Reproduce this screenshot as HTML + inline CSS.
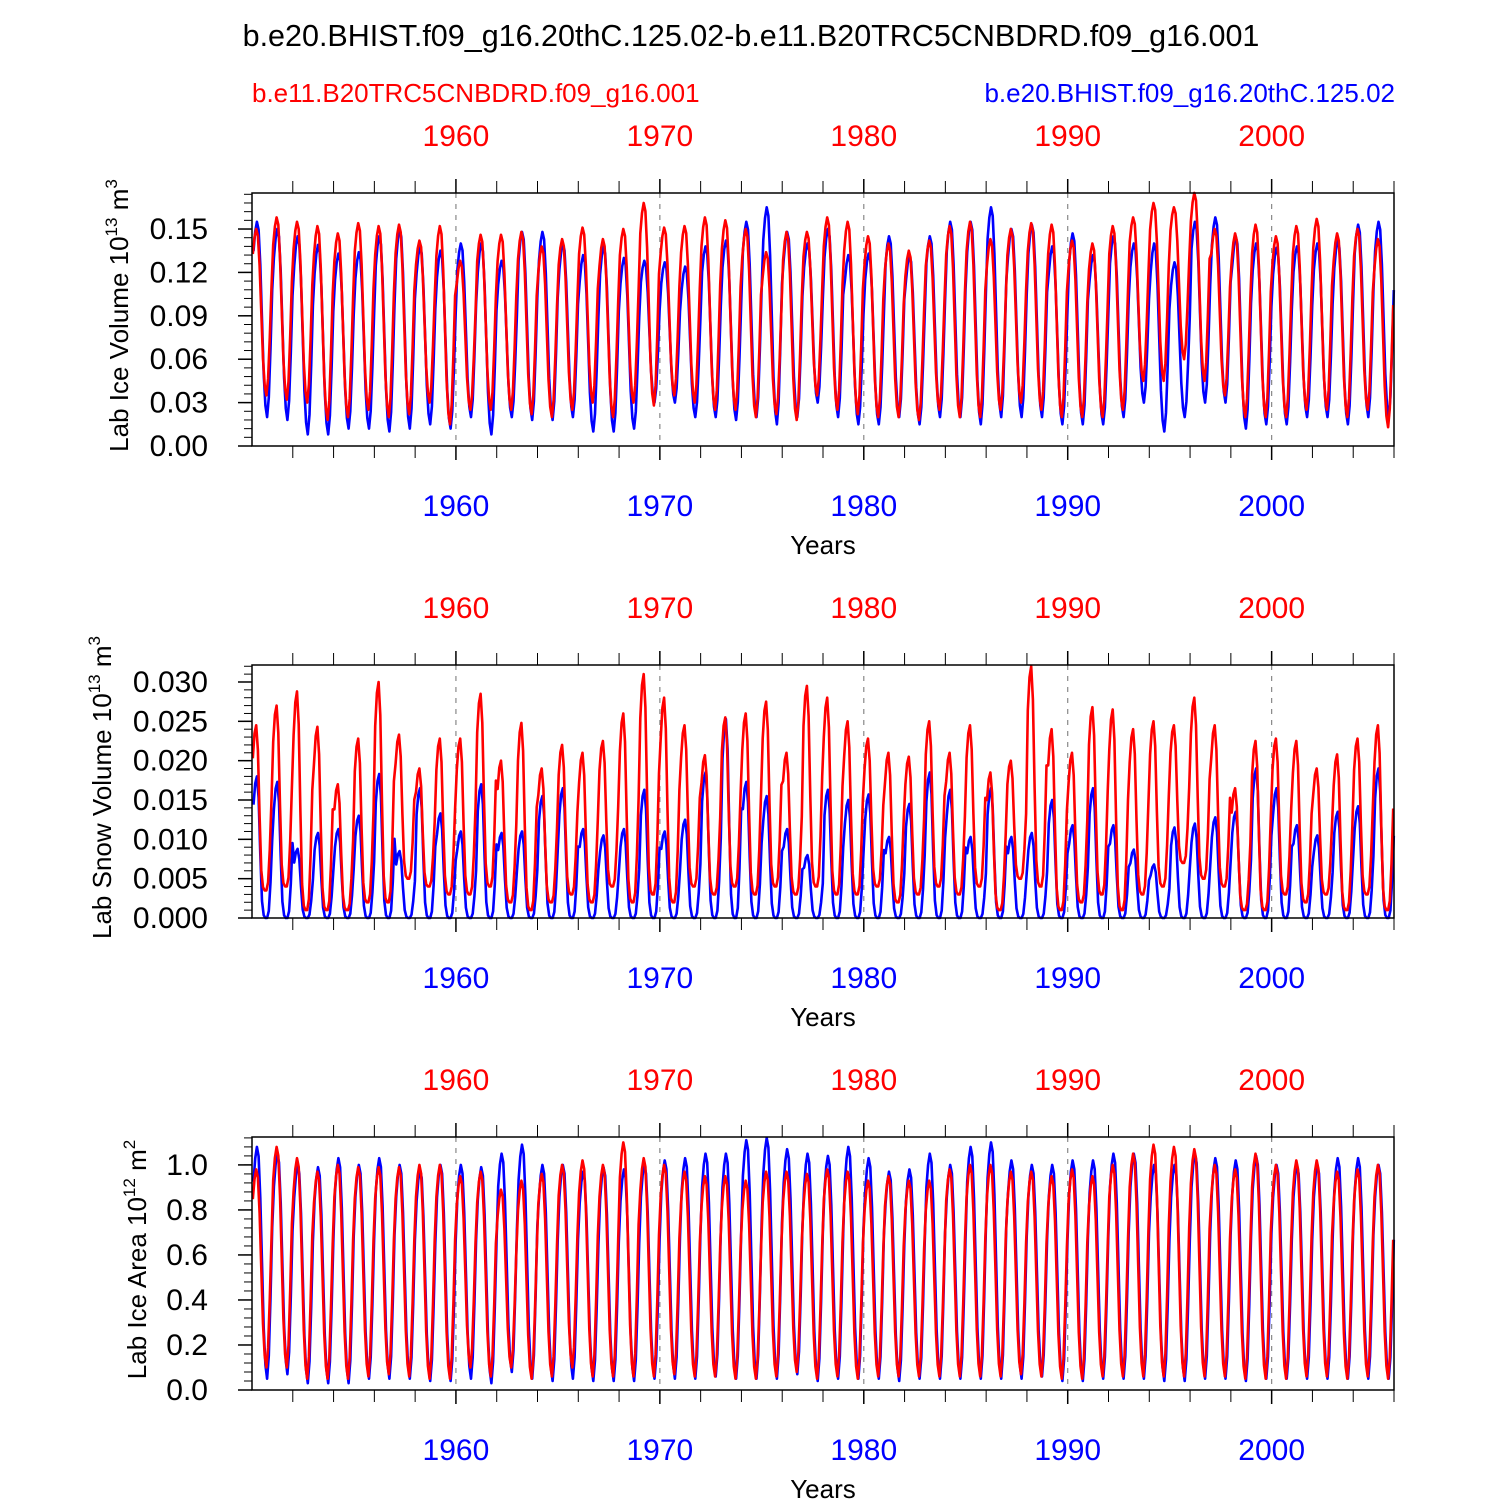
<!DOCTYPE html>
<html><head><meta charset="utf-8">
<style>
html,body{margin:0;padding:0;background:#fff;}
svg text{font-family:"Liberation Sans",sans-serif;}
</style></head>
<body>
<svg id="chart" width="1500" height="1500" viewBox="0 0 1500 1500" xmlns="http://www.w3.org/2000/svg">
<text x="751" y="46" text-anchor="middle" font-size="30.5">b.e20.BHIST.f09_g16.20thC.125.02-b.e11.B20TRC5CNBDRD.f09_g16.001</text>
<text x="252" y="102" font-size="26" fill="#f00">b.e11.B20TRC5CNBDRD.f09_g16.001</text>
<text x="1395" y="102" text-anchor="end" font-size="26" fill="#00f">b.e20.BHIST.f09_g16.20thC.125.02</text>
</svg>
<script>
// ---- data ----
const years = [];
for (let y = 1950; y <= 2005; y++) years.push(y);
const seasonShape = [0.85,0.95,1.0,0.96,0.78,0.5,0.22,0.06,0.0,0.1,0.35,0.65];
const snowShape = [0.8,0.95,1.0,0.85,0.45,0.12,0.02,0.0,0.0,0.05,0.25,0.55];

const volRedPeak = [0.15,0.158,0.155,0.152,0.147,0.154,0.152,0.153,0.142,0.152,0.128,0.146,0.146,0.148,0.138,0.143,0.151,0.143,0.15,0.168,0.151,0.152,0.158,0.156,0.15,0.134,0.148,0.148,0.158,0.155,0.145,0.14,0.135,0.142,0.152,0.155,0.143,0.15,0.154,0.153,0.142,0.14,0.152,0.158,0.168,0.165,0.175,0.15,0.147,0.153,0.145,0.152,0.157,0.147,0.15,0.143];
const volRedMin = [0.035,0.032,0.03,0.018,0.02,0.025,0.02,0.022,0.03,0.015,0.025,0.025,0.025,0.022,0.02,0.025,0.03,0.02,0.03,0.028,0.035,0.03,0.025,0.025,0.02,0.022,0.018,0.035,0.025,0.022,0.02,0.02,0.018,0.025,0.02,0.02,0.025,0.03,0.025,0.02,0.02,0.02,0.025,0.045,0.045,0.06,0.045,0.035,0.02,0.02,0.02,0.025,0.025,0.02,0.025,0.013];
const volBluePeak = [0.155,0.15,0.145,0.139,0.133,0.134,0.145,0.15,0.138,0.135,0.14,0.14,0.128,0.148,0.148,0.14,0.132,0.138,0.13,0.128,0.127,0.124,0.138,0.142,0.155,0.165,0.148,0.14,0.15,0.132,0.133,0.145,0.132,0.145,0.155,0.155,0.165,0.15,0.153,0.138,0.147,0.132,0.145,0.14,0.14,0.127,0.155,0.158,0.145,0.14,0.137,0.138,0.14,0.142,0.153,0.155];
const volBlueMin = [0.02,0.018,0.008,0.008,0.012,0.012,0.01,0.012,0.015,0.012,0.02,0.008,0.02,0.018,0.018,0.02,0.01,0.01,0.012,0.03,0.03,0.02,0.02,0.018,0.02,0.015,0.02,0.03,0.02,0.015,0.015,0.02,0.015,0.02,0.02,0.015,0.02,0.02,0.02,0.015,0.015,0.015,0.02,0.03,0.01,0.02,0.03,0.03,0.012,0.015,0.015,0.02,0.02,0.015,0.02,0.02];

const snowRedPeak = [0.0245,0.027,0.0288,0.0243,0.017,0.0228,0.030,0.0233,0.019,0.0228,0.0228,0.0285,0.020,0.0248,0.019,0.022,0.021,0.0225,0.026,0.031,0.028,0.0245,0.0207,0.0255,0.026,0.0275,0.021,0.0295,0.028,0.025,0.0228,0.021,0.0205,0.025,0.021,0.0245,0.0185,0.020,0.032,0.024,0.021,0.0268,0.0265,0.024,0.025,0.0245,0.028,0.0245,0.0165,0.0225,0.0228,0.0225,0.019,0.0208,0.0228,0.0245];
const snowRedMin = [0.0035,0.004,0.001,0.001,0.001,0.002,0.002,0.005,0.004,0.003,0.003,0.004,0.002,0.001,0.002,0.003,0.002,0.004,0.002,0.003,0.002,0.004,0.003,0.004,0.003,0.004,0.003,0.004,0.003,0.003,0.004,0.002,0.003,0.004,0.003,0.004,0.001,0.005,0.004,0.001,0.002,0.003,0.001,0.003,0.004,0.007,0.005,0.004,0.001,0.001,0.003,0.002,0.003,0.001,0.003,0.001];
const snowBluePeak = [0.018,0.0173,0.0088,0.0108,0.0113,0.013,0.0183,0.0085,0.0165,0.0133,0.011,0.017,0.0108,0.011,0.0155,0.0165,0.0113,0.0105,0.0113,0.0163,0.011,0.0125,0.0185,0.0253,0.0173,0.0155,0.0113,0.008,0.0163,0.015,0.0157,0.0103,0.0145,0.0185,0.0163,0.0103,0.0165,0.0103,0.0108,0.015,0.0118,0.0165,0.0118,0.0087,0.0068,0.0115,0.012,0.0128,0.0135,0.019,0.0165,0.0118,0.0105,0.0135,0.0142,0.019];
const snowBlueMin = years.map(() => 0.0);

const areaRedPeak = [0.98,1.08,1.03,0.97,1.0,0.99,0.99,0.99,1.0,1.0,0.95,0.97,0.89,0.93,0.96,1.0,1.02,1.0,1.1,1.03,1.0,0.97,0.95,0.95,0.93,0.97,0.97,0.96,0.98,0.97,0.93,0.95,0.93,0.93,0.98,1.0,1.0,0.97,0.97,0.95,0.98,0.95,1.0,1.05,1.09,1.08,1.07,1.0,0.98,1.05,1.0,1.02,1.02,0.97,0.98,1.0];
const areaRedMin = [0.1,0.1,0.05,0.05,0.05,0.06,0.07,0.06,0.05,0.05,0.1,0.06,0.1,0.05,0.06,0.1,0.06,0.06,0.06,0.06,0.07,0.06,0.06,0.05,0.05,0.06,0.08,0.05,0.06,0.05,0.06,0.06,0.06,0.06,0.06,0.06,0.06,0.07,0.06,0.05,0.05,0.06,0.06,0.06,0.06,0.06,0.06,0.06,0.05,0.05,0.05,0.06,0.06,0.05,0.06,0.05];
const areaBluePeak = [1.08,1.05,1.0,0.99,1.03,1.0,1.03,1.0,0.98,1.0,1.0,0.99,1.05,1.09,1.0,1.0,0.97,0.99,0.98,1.0,1.02,1.03,1.05,1.05,1.11,1.12,1.07,1.05,1.04,1.08,1.03,0.97,0.98,1.05,1.0,1.08,1.1,1.02,1.0,1.0,1.02,1.02,1.05,1.05,1.0,1.0,1.05,1.03,1.02,1.04,1.0,1.0,1.0,1.03,1.03,1.0];
const areaBlueMin = [0.05,0.07,0.03,0.03,0.03,0.05,0.05,0.05,0.04,0.04,0.05,0.03,0.08,0.05,0.04,0.05,0.04,0.04,0.04,0.05,0.05,0.05,0.06,0.05,0.05,0.05,0.07,0.04,0.05,0.05,0.05,0.04,0.05,0.05,0.05,0.05,0.05,0.05,0.06,0.04,0.04,0.05,0.05,0.05,0.04,0.04,0.05,0.05,0.04,0.05,0.05,0.05,0.05,0.05,0.05,0.05];

const decadeLabels = [1960,1970,1980,1990,2000];

// ---- layout ----
const svg = document.getElementById('chart');
const NS = 'http://www.w3.org/2000/svg';
const X0 = 252, X1 = 1394, T0 = 1950, T1 = 2006;
function xs(t){ return X0 + (t - T0) / (T1 - T0) * (X1 - X0); }
function mk(tag, attrs, parent){
  const e = document.createElementNS(NS, tag);
  for (const k in attrs) e.setAttribute(k, attrs[k]);
  (parent || svg).appendChild(e);
  return e;
}

const panels = [
  {name:'ice-volume', top:193, bot:446, ymax:0.1749, ticks:[0,0.03,0.06,0.09,0.12,0.15], dec:2, minor:0.006, shape:seasonShape,
   red:[volRedPeak,volRedMin], blue:[volBluePeak,volBlueMin], label:'Lab Ice Volume 10', unit:'m', sup1:'13', sup2:'3', lx:128},
  {name:'snow-volume', top:665, bot:918, ymax:0.03216, ticks:[0,0.005,0.01,0.015,0.02,0.025,0.03], dec:3, minor:0.001, shape:snowShape,
   red:[snowRedPeak,snowRedMin], blue:[snowBluePeak,snowBlueMin], label:'Lab Snow Volume 10', unit:'m', sup1:'13', sup2:'3', lx:111},
  {name:'ice-area', top:1137, bot:1390, ymax:1.124, ticks:[0,0.2,0.4,0.6,0.8,1.0], dec:1, minor:0.04, shape:seasonShape,
   red:[areaRedPeak,areaRedMin], blue:[areaBluePeak,areaBlueMin], label:'Lab Ice Area 10', unit:'m', sup1:'12', sup2:'2', lx:146}
];

panels.forEach(p => {
  const g = mk('g', {});
  
  
  const ys = v => p.bot - v / p.ymax * (p.bot - p.top);
  decadeLabels.forEach(d => {
    const l = mk('line', {x1:xs(d), x2:xs(d), y1:p.top, y2:p.bot, stroke:'#888', 'stroke-width':1.2, 'stroke-dasharray':'5,6'}, g);
    
    
  });
  [['blue','#0000ff',p.blue],['red','#ff0000',p.red]].forEach(([nm,col,arr]) => {
    const pts = [];
    years.forEach((yr, i) => {
      const pk = arr[0][i], mn = arr[1][i];
      for (let m = 0; m < 12; m++) {
        const t = yr + (m + 0.5) / 12 + (nm === 'blue' ? 0.03 : 0);
        const v = mn + (pk - mn) * p.shape[m];
        pts.push(xs(Math.min(t, T1)).toFixed(1) + ',' + ys(v).toFixed(1));
      }
    });
    const pl = mk('polyline', {points:pts.join(' '), fill:'none', stroke:col, 'stroke-width':2.6, 'stroke-linejoin':'round'}, g);
    
    
  });
  const fr = mk('rect', {x:X0, y:p.top, width:X1-X0, height:p.bot-p.top, fill:'none', stroke:'#000', 'stroke-width':1.5}, g);
  
  
  for (let y = 1952; y <= 2006; y += 2) {
    const big = y % 10 === 0;
    const len = big ? 14 : 12;
    mk('line', {x1:xs(y), x2:xs(y), y1:p.top, y2:p.top-len, stroke:'#000', 'stroke-width':big?1.5:1}, g);
    mk('line', {x1:xs(y), x2:xs(y), y1:p.bot, y2:p.bot+len, stroke:'#000', 'stroke-width':big?1.5:1}, g);
  }
  decadeLabels.forEach(d => {
    const t1 = mk('text', {x:xs(d), y:p.top-47, 'text-anchor':'middle', 'font-size':30, fill:'#f00'}, g);
    t1.textContent = d;
    
    
    const t2 = mk('text', {x:xs(d), y:p.bot+70, 'text-anchor':'middle', 'font-size':30, fill:'#00f'}, g);
    t2.textContent = d;
    
    
  });
  const xt = mk('text', {x:823, y:p.bot+108, 'text-anchor':'middle', 'font-size':26}, g);
  xt.textContent = 'Years';
  
  
  for (let v = 0; v <= p.ymax + 1e-9; v += p.minor) {
    mk('line', {x1:X0, x2:X0-8, y1:ys(v), y2:ys(v), stroke:'#000', 'stroke-width':1}, g);
  }
  p.ticks.forEach(v => {
    mk('line', {x1:X0, x2:X0-14, y1:ys(v), y2:ys(v), stroke:'#000', 'stroke-width':1.5}, g);
    const tl = mk('text', {x:X0-44, y:ys(v)+10, 'text-anchor':'end', 'font-size':30}, g);
    tl.textContent = v.toFixed(p.dec);
    
    
  });
  const cy = (p.top + p.bot) / 2 - 4;
  const yt = mk('text', {x:0, y:0, 'text-anchor':'middle', 'font-size':26, transform:`translate(${p.lx},${cy}) rotate(-90)`}, g);
  
  
  yt.appendChild(document.createTextNode(p.label));
  const s1 = mk('tspan', {dy:-11, 'font-size':17}, yt); s1.textContent = p.sup1;
  const s2 = mk('tspan', {dy:11, 'font-size':26}, yt); s2.textContent = ' ' + p.unit;
  const s3 = mk('tspan', {dy:-11, 'font-size':17}, yt); s3.textContent = p.sup2;
});
</script>
</body></html>
